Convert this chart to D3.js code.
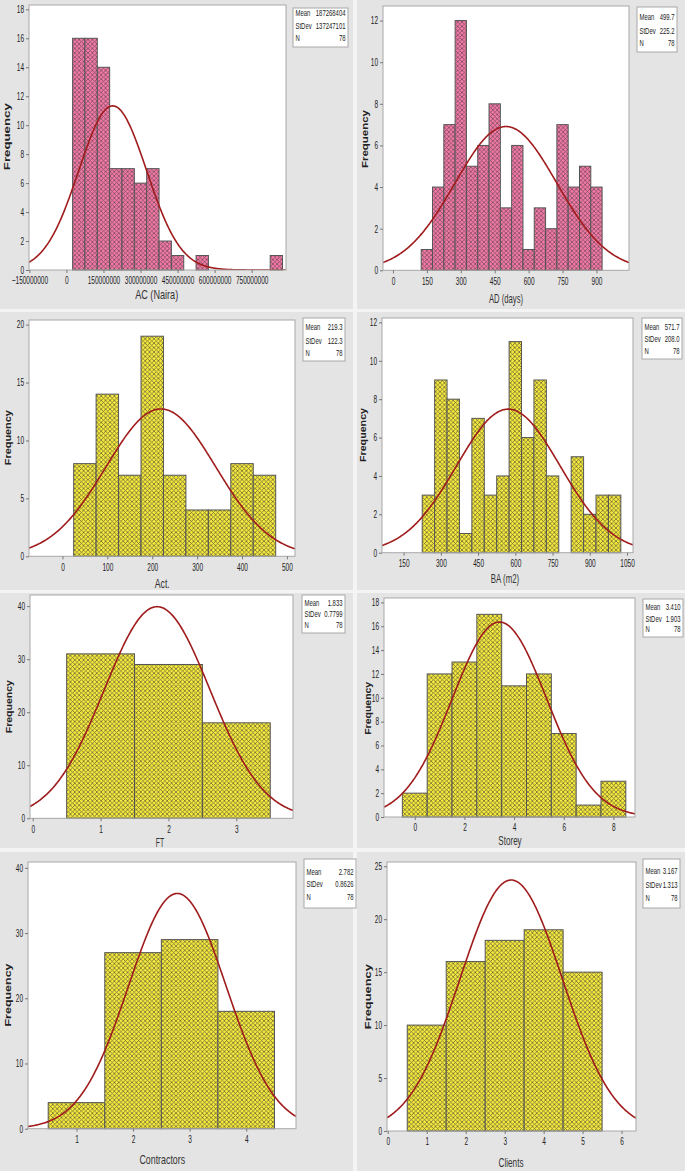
<!DOCTYPE html>
<html><head><meta charset="utf-8">
<script src="https://cdn.jsdelivr.net/npm/d3@7/dist/d3.min.js"></script>
<style>
html,body{margin:0;padding:0;background:#f4f4f4;}
svg{display:block;font-family:"Liberation Sans","Noto Sans",sans-serif;}
</style></head>
<body>
<svg id="chart" width="685" height="1171"></svg>
<script>
// ---------------- DATA ----------------
const acCounts = [16,16,14,7,7,6,7,2,1,0,1,0,0,0,0,0,1];
const acBinStart = 25000000, acBinWidth = 50000000;
const acXTicks = [-150000000,0,150000000,300000000,450000000,600000000,750000000];
const acYTicks = [0,2,4,6,8,10,12,14,16,18];
const acStats = {mean:187268404, sd:137247101, n:78, meanText:"187268404", sdText:"137247101"};

const adCounts = [1,4,7,12,5,6,8,3,6,1,3,2,7,4,5,4];
const adBinStart = 125, adBinWidth = 50;
const adXTicks = [0,150,300,450,600,750,900];
const adYTicks = [0,2,4,6,8,10,12];
const adStats = {mean:499.7, sd:225.2, n:78, meanText:"499.7", sdText:"225.2"};

const actCounts = [8,14,7,19,7,4,4,8,7];
const actBinStart = 25, actBinWidth = 50;
const actXTicks = [0,100,200,300,400,500];
const actYTicks = [0,5,10,15,20];
const actStats = {mean:219.3, sd:122.3, n:78, meanText:"219.3", sdText:"122.3"};

const baCounts = [3,9,8,1,7,3,4,11,6,9,4,0,5,2,3,3];
const baBinStart = 225, baBinWidth = 50;
const baXTicks = [150,300,450,600,750,900,1050];
const baYTicks = [0,2,4,6,8,10,12];
const baStats = {mean:571.7, sd:208.0, n:78, meanText:"571.7", sdText:"208.0"};

const ftCounts = [31,29,18];
const ftBinStart = 0.5, ftBinWidth = 1;
const ftXTicks = [0,1,2,3];
const ftYTicks = [0,10,20,30,40];
const ftStats = {mean:1.833, sd:0.7799, n:78, meanText:"1.833", sdText:"0.7799"};

const storeyCounts = [2,12,13,17,11,12,7,1,3];
const storeyBinStart = -0.5, storeyBinWidth = 1;
const storeyXTicks = [0,2,4,6,8];
const storeyYTicks = [0,2,4,6,8,10,12,14,16,18];
const storeyStats = {mean:3.410, sd:1.903, n:78, meanText:"3.410", sdText:"1.903"};

const contractorsCounts = [4,27,29,18];
const contractorsBinStart = 0.5, contractorsBinWidth = 1;
const contractorsXTicks = [1,2,3,4];
const contractorsYTicks = [0,10,20,30,40];
const contractorsStats = {mean:2.782, sd:0.8626, n:78, meanText:"2.782", sdText:"0.8626"};

const clientsCounts = [10,16,18,19,15];
const clientsBinStart = 0.5, clientsBinWidth = 1;
const clientsXTicks = [0,1,2,3,4,5,6];
const clientsYTicks = [0,5,10,15,20,25];
const clientsStats = {mean:3.167, sd:1.313, n:78, meanText:"3.167", sdText:"1.313"};

const xLabels = ["AC (Naira)","AD (days)","Act.","BA (m2)","FT","Storey","Contractors","Clients"];

// ---------------- LAYOUT ----------------
const panels = [
 {counts:acCounts, start:acBinStart, width:acBinWidth, xTicks:acXTicks, yTicks:acYTicks, stats:acStats, label:xLabels[0], fill:"pink",
  outer:[0,0,353,309], plot:[29,5,286,270], xDom:[-151.5e6,889e6], yMax:18.3, box:[293,8,348,47], rows:[13.3,26,38.3], ylab:[7,136.7,67], xlab:[156.7,299,43]},
 {counts:adCounts, start:adBinStart, width:adBinWidth, xTicks:adXTicks, yTicks:adYTicks, stats:adStats, label:xLabels[1], fill:"pink",
  outer:[357,0,685,309], plot:[383,6,629,270.3], xDom:[-44,1044], yMax:12.7, box:[637,7,677,52], rows:[16.7,30.7,43.3], ylab:[365,139,58], xlab:[506,303,34]},
 {counts:actCounts, start:actBinStart, width:actBinWidth, xTicks:actXTicks, yTicks:actYTicks, stats:actStats, label:xLabels[2], fill:"yellow",
  outer:[0,312,353,590], plot:[29,320,295,556.3], xDom:[-74.5,518], yMax:20.4, box:[303,318,345,361], rows:[327.3,340.7,352.7], ylab:[8.3,437.7,55], xlab:[162.3,587.5,15]},
 {counts:baCounts, start:baBinStart, width:baBinWidth, xTicks:baXTicks, yTicks:baYTicks, stats:baStats, label:xLabels[3], fill:"yellow",
  outer:[357,312,685,590], plot:[382,318,633,552.7], xDom:[63,1074], yMax:12.23, box:[642,318,682,359], rows:[326.7,339.3,350.7], ylab:[363.3,435,54], xlab:[505,582.5,28.3]},
 {counts:ftCounts, start:ftBinStart, width:ftBinWidth, xTicks:ftXTicks, yTicks:ftYTicks, stats:ftStats, label:xLabels[4], fill:"yellow",
  outer:[0,593,353,848], plot:[30,595,293,818.3], xDom:[-0.04,3.835], yMax:42.1, box:[302,595,345,633], rows:[603.3,614,625], ylab:[9,706.7,53], xlab:[160,846.5,8.3]},
 {counts:storeyCounts, start:storeyBinStart, width:storeyBinWidth, xTicks:storeyXTicks, yTicks:storeyYTicks, stats:storeyStats, label:xLabels[5], fill:"yellow",
  outer:[357,593,685,848], plot:[384,598,635,817], xDom:[-1.24,8.87], yMax:18.37, box:[643,599,683,637], rows:[606.7,619,629.3], ylab:[368.3,708.3,53], xlab:[510,844.5,23.3]},
 {counts:contractorsCounts, start:contractorsBinStart, width:contractorsBinWidth, xTicks:contractorsXTicks, yTicks:contractorsYTicks, stats:contractorsStats, label:xLabels[6], fill:"yellow",
  outer:[0,852,353,1171], plot:[28,862,296,1128.7], xDom:[0.143,4.88], yMax:40.9, box:[304,859,356,908], rows:[871.7,884.3,897.3], ylab:[8.3,995,63], xlab:[162.3,1163.5,45.7]},
 {counts:clientsCounts, start:clientsBinStart, width:clientsBinWidth, xTicks:clientsXTicks, yTicks:clientsYTicks, stats:clientsStats, label:xLabels[7], fill:"yellow",
  outer:[357,852,685,1171], plot:[387,862,636,1131], xDom:[-0.02,6.37], yMax:25.4, box:[643,859,680,908], rows:[871,885,898.3], ylab:[368.3,996.7,65], xlab:[511,1166.5,25]}
];

const svg = d3.select("#chart");
const defs = svg.append("defs");
function hatch(id, base, line){
  const s = 4.4;
  const p = defs.append("pattern").attr("id",id).attr("patternUnits","userSpaceOnUse").attr("width",s).attr("height",s);
  p.append("rect").attr("width",s).attr("height",s).attr("fill",base);
  p.append("path").attr("d",`M0,0L${s},${s}M0,${s}L${s},0M${-s/2},${s/2}L${s/2},${-s/2}M${s/2},${s*1.5}L${s*1.5},${s/2}M${-s/2},${s/2}L${s/2},${s*1.5}M${s/2},${-s/2}L${s*1.5},${s/2}`)
    .attr("stroke",line).attr("stroke-width",0.75).attr("fill","none");
}
hatch("pinkHatch","#f47aa6","#74495a");
hatch("yellowHatch","#f6ea3e","#6a6636");

const SX = 0.62;
panels.forEach((P,i)=>{
  const [ox,oy,ox2,oy2] = P.outer;
  svg.append("rect").attr("x",ox).attr("y",oy).attr("width",ox2-ox).attr("height",oy2-oy).attr("fill","#e4e4e4");
  const [l,t,r,b] = P.plot;
  const x = d3.scaleLinear().domain(P.xDom).range([l,r]);
  const y = d3.scaleLinear().domain([0,P.yMax]).range([b,t]);
  const g = svg.append("g");
  g.append("rect").attr("x",l).attr("y",t).attr("width",r-l).attr("height",b-t).attr("fill","#fff");
  const clipId = "clip"+i;
  defs.append("clipPath").attr("id",clipId).append("rect").attr("x",l).attr("y",t).attr("width",r-l).attr("height",b-t);

  const bins = P.counts.map((c,k)=>({x0:P.start+k*P.width, x1:P.start+(k+1)*P.width, c})).filter(d=>d.c>0);
  g.append("g").selectAll("rect").data(bins).join("rect")
    .attr("x",d=>x(d.x0)).attr("width",d=>x(d.x1)-x(d.x0))
    .attr("y",d=>y(d.c)).attr("height",d=>y(0)-y(d.c))
    .attr("fill",P.fill==="pink"?"url(#pinkHatch)":"url(#yellowHatch)")
    .attr("stroke","#555").attr("stroke-width",1);

  // normal curve
  const st = P.stats;
  const pts = d3.range(0,301).map(k=>{
    const xv = P.xDom[0] + (P.xDom[1]-P.xDom[0])*k/300;
    const z = (xv-st.mean)/st.sd;
    return [xv, st.n*P.width*Math.exp(-0.5*z*z)/(st.sd*Math.sqrt(2*Math.PI))];
  });
  g.append("path").attr("clip-path",`url(#${clipId})`)
    .attr("d", d3.line().x(d=>x(d[0])).y(d=>y(d[1])).curve(d3.curveLinear)(pts))
    .attr("fill","none").attr("stroke","#a01c1c").attr("stroke-width",1.6);

  // frame
  g.append("rect").attr("x",l).attr("y",t).attr("width",r-l).attr("height",b-t).attr("fill","none").attr("stroke","#a8a8a8");

  // axes
  const ya = g.append("g").attr("transform",`translate(${l},0)`)
    .call(d3.axisLeft(y).tickValues(P.yTicks).tickSize(3).tickPadding(2).tickFormat(d3.format("d")));
  const xa = g.append("g").attr("transform",`translate(0,${b})`)
    .call(d3.axisBottom(x).tickValues(P.xTicks).tickSize(3).tickPadding(4).tickFormat(d3.format("d")));
  [ya,xa].forEach(a=>{
    a.select(".domain").remove();
    a.selectAll(".tick line").attr("stroke","#777");
    a.selectAll(".tick text").attr("fill","#222").style("font-size","10.5px").style("font-family","'Liberation Sans',sans-serif");
  });
  ya.selectAll(".tick text").attr("x",-5/SX).attr("transform",`scale(${SX},1)`);
  xa.selectAll(".tick text").attr("transform",`scale(${SX},1)`);

  // axis titles
  g.append("text").attr("transform",`translate(${P.ylab[0]},${P.ylab[1]}) rotate(-90) scale(1,0.68)`)
    .attr("text-anchor","middle").attr("dy","0.35em")
    .attr("textLength",P.ylab[2]).attr("lengthAdjust","spacingAndGlyphs")
    .style("font-weight","bold").style("font-size","13px").attr("fill","#222").text("Frequency");
  g.append("text").attr("x",P.xlab[0]-P.xlab[2]/2).attr("y",P.xlab[1])
    .attr("textLength",P.xlab[2]).attr("lengthAdjust","spacingAndGlyphs")
    .style("font-size","13.5px").attr("fill","#333").text(P.label);

  // stats box
  const [bx,by,bx2,by2] = P.box;
  g.append("rect").attr("x",bx).attr("y",by).attr("width",bx2-bx).attr("height",by2-by).attr("fill","#fff").attr("stroke","#a8a8a8");
  const rowsTxt = [["Mean",st.meanText],["StDev",st.sdText],["N",String(st.n)]];
  const sx2 = 0.66;
  rowsTxt.forEach((rw,k)=>{
    const yy = P.rows[k];
    g.append("text").attr("transform",`translate(${bx+2.5},${yy}) scale(${sx2},1)`).attr("dy","0.35em")
      .style("font-size","9px").attr("fill","#222").text(rw[0]);
    g.append("text").attr("transform",`translate(${bx2-2.5},${yy}) scale(${sx2},1)`).attr("dy","0.35em")
      .attr("text-anchor","end").style("font-size","9px").attr("fill","#222").text(rw[1]);
  });
});
</script>
</body></html>
